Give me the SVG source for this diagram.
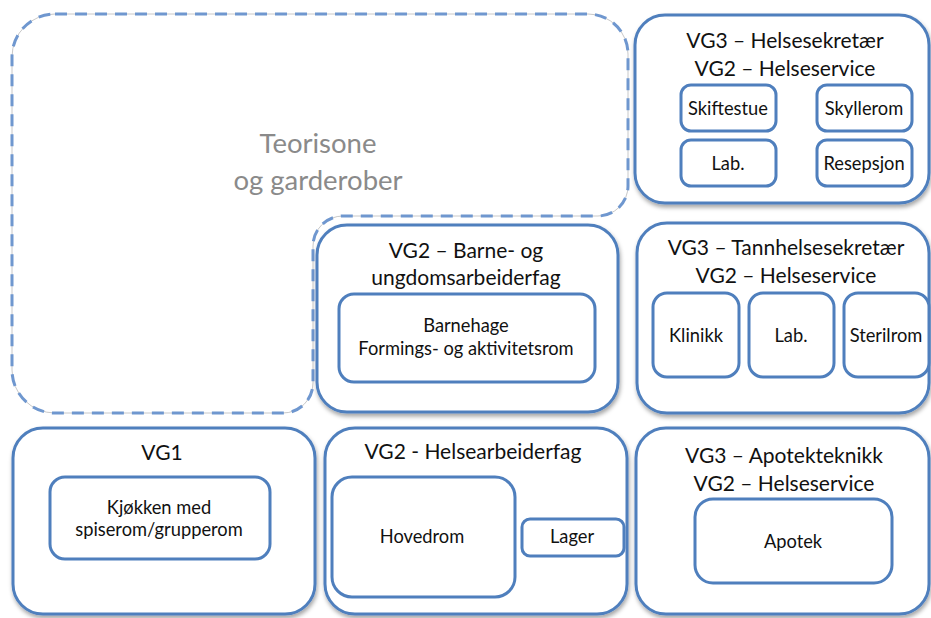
<svg xmlns="http://www.w3.org/2000/svg" width="931" height="618" viewBox="0 0 931 618">
<defs>
<filter id="sh" x="-10%" y="-10%" width="130%" height="130%">
<feDropShadow dx="1" dy="3" stdDeviation="2" flood-color="#000" flood-opacity="0.35"/>
</filter>
<style>
.box{fill:#fff;stroke:#4f7fbd;stroke-width:3;filter:url(#sh)}
.in{fill:#fff;stroke:#4f7fbd;stroke-width:3}
.t{font-family:Lato,"Open Sans",sans-serif;font-size:21px;fill:#111;text-anchor:middle}
.s{font-family:Lato,"Open Sans",sans-serif;font-size:18.3px;fill:#111;text-anchor:middle}
.g{font-family:Lato,"Open Sans",sans-serif;font-size:27.5px;fill:#8a8a8a;text-anchor:middle}
</style>
</defs>
<rect width="931" height="618" fill="#fff"/>
<g id="teorisone">
<path d="M55,14 H588 A40,40 0 0 1 628,54 V186 A30,30 0 0 1 598,216 H343 A30,30 0 0 0 313,246 V383 A30,30 0 0 1 283,413 H55 A43,43 0 0 1 12,370 V57 A43,43 0 0 1 55,14 Z" fill="#fff" stroke="#c8c8c8" stroke-width="1"/>
<path d="M55,14 H588 A40,40 0 0 1 628,54 V186 A30,30 0 0 1 598,216 H343 A30,30 0 0 0 313,246 V383 A30,30 0 0 1 283,413 H55 A43,43 0 0 1 12,370 V57 A43,43 0 0 1 55,14 Z" fill="none" stroke="#6f97cf" stroke-width="3" stroke-dasharray="12,8"/>
<text class="g" x="318" y="153">Teorisone</text>
<text class="g" x="318" y="190">og garderober</text>
</g>
<g id="vg3-helsesekretaer">
<rect class="box" x="635" y="15" width="294" height="188" rx="30"/>
<text class="t" x="785" y="48">VG3 – Helsesekretær</text>
<text class="t" x="785" y="76">VG2 – Helseservice</text>
<rect class="in" x="681" y="85" width="95" height="46" rx="10"/>
<text class="s" x="728" y="115">Skiftestue</text>
<rect class="in" x="817" y="85" width="95" height="46" rx="10"/>
<text class="s" x="864" y="115">Skyllerom</text>
<rect class="in" x="681" y="140" width="95" height="46" rx="10"/>
<text class="s" x="728" y="170">Lab.</text>
<rect class="in" x="817" y="140" width="95" height="46" rx="10"/>
<text class="s" x="864" y="170">Resepsjon</text>
</g>
<g id="vg2-barne">
<rect class="box" x="317" y="225" width="301" height="187" rx="30"/>
<text class="t" x="466" y="258">VG2 – Barne- og</text>
<text class="t" x="466" y="285">ungdomsarbeiderfag</text>
<rect class="in" x="339" y="294" width="256" height="88" rx="15"/>
<text class="s" x="466" y="332">Barnehage</text>
<text class="s" x="466" y="355">Formings- og aktivitetsrom</text>
</g>
<g id="vg3-tannhelse">
<rect class="box" x="637" y="223" width="292" height="190" rx="30"/>
<text class="t" x="786" y="255">VG3 – Tannhelsesekretær</text>
<text class="t" x="786" y="283">VG2 – Helseservice</text>
<rect class="in" x="653" y="293" width="86" height="84" rx="14"/>
<text class="s" x="696" y="342">Klinikk</text>
<rect class="in" x="749" y="293" width="85" height="84" rx="14"/>
<text class="s" x="791" y="342">Lab.</text>
<rect class="in" x="844" y="293" width="85" height="84" rx="14"/>
<text class="s" x="886" y="342">Sterilrom</text>
</g>
<g id="vg1">
<rect class="box" x="13" y="428" width="302" height="186" rx="30"/>
<text class="t" x="162" y="460">VG1</text>
<rect class="in" x="50" y="477" width="220" height="82" rx="15"/>
<text class="s" x="159" y="514">Kjøkken med</text>
<text class="s" x="159" y="536">spiserom/grupperom</text>
</g>
<g id="vg2-helsearbeider">
<rect class="box" x="325" y="428" width="302" height="186" rx="30"/>
<text class="t" x="473" y="459">VG2 - Helsearbeiderfag</text>
<rect class="in" x="332" y="477" width="183" height="120" rx="20"/>
<text class="s" x="422" y="543">Hovedrom</text>
<rect class="in" x="522" y="519" width="102" height="37" rx="8"/>
<text class="s" x="572" y="543">Lager</text>
</g>
<g id="vg3-apotek">
<rect class="box" x="636" y="428" width="293" height="186" rx="30"/>
<text class="t" x="784" y="463">VG3 – Apotekteknikk</text>
<text class="t" x="784" y="491">VG2 – Helseservice</text>
<rect class="in" x="695" y="499" width="197" height="84" rx="18"/>
<text class="s" x="793" y="548">Apotek</text>
</g>
<g id="connectors"/>
</svg>
